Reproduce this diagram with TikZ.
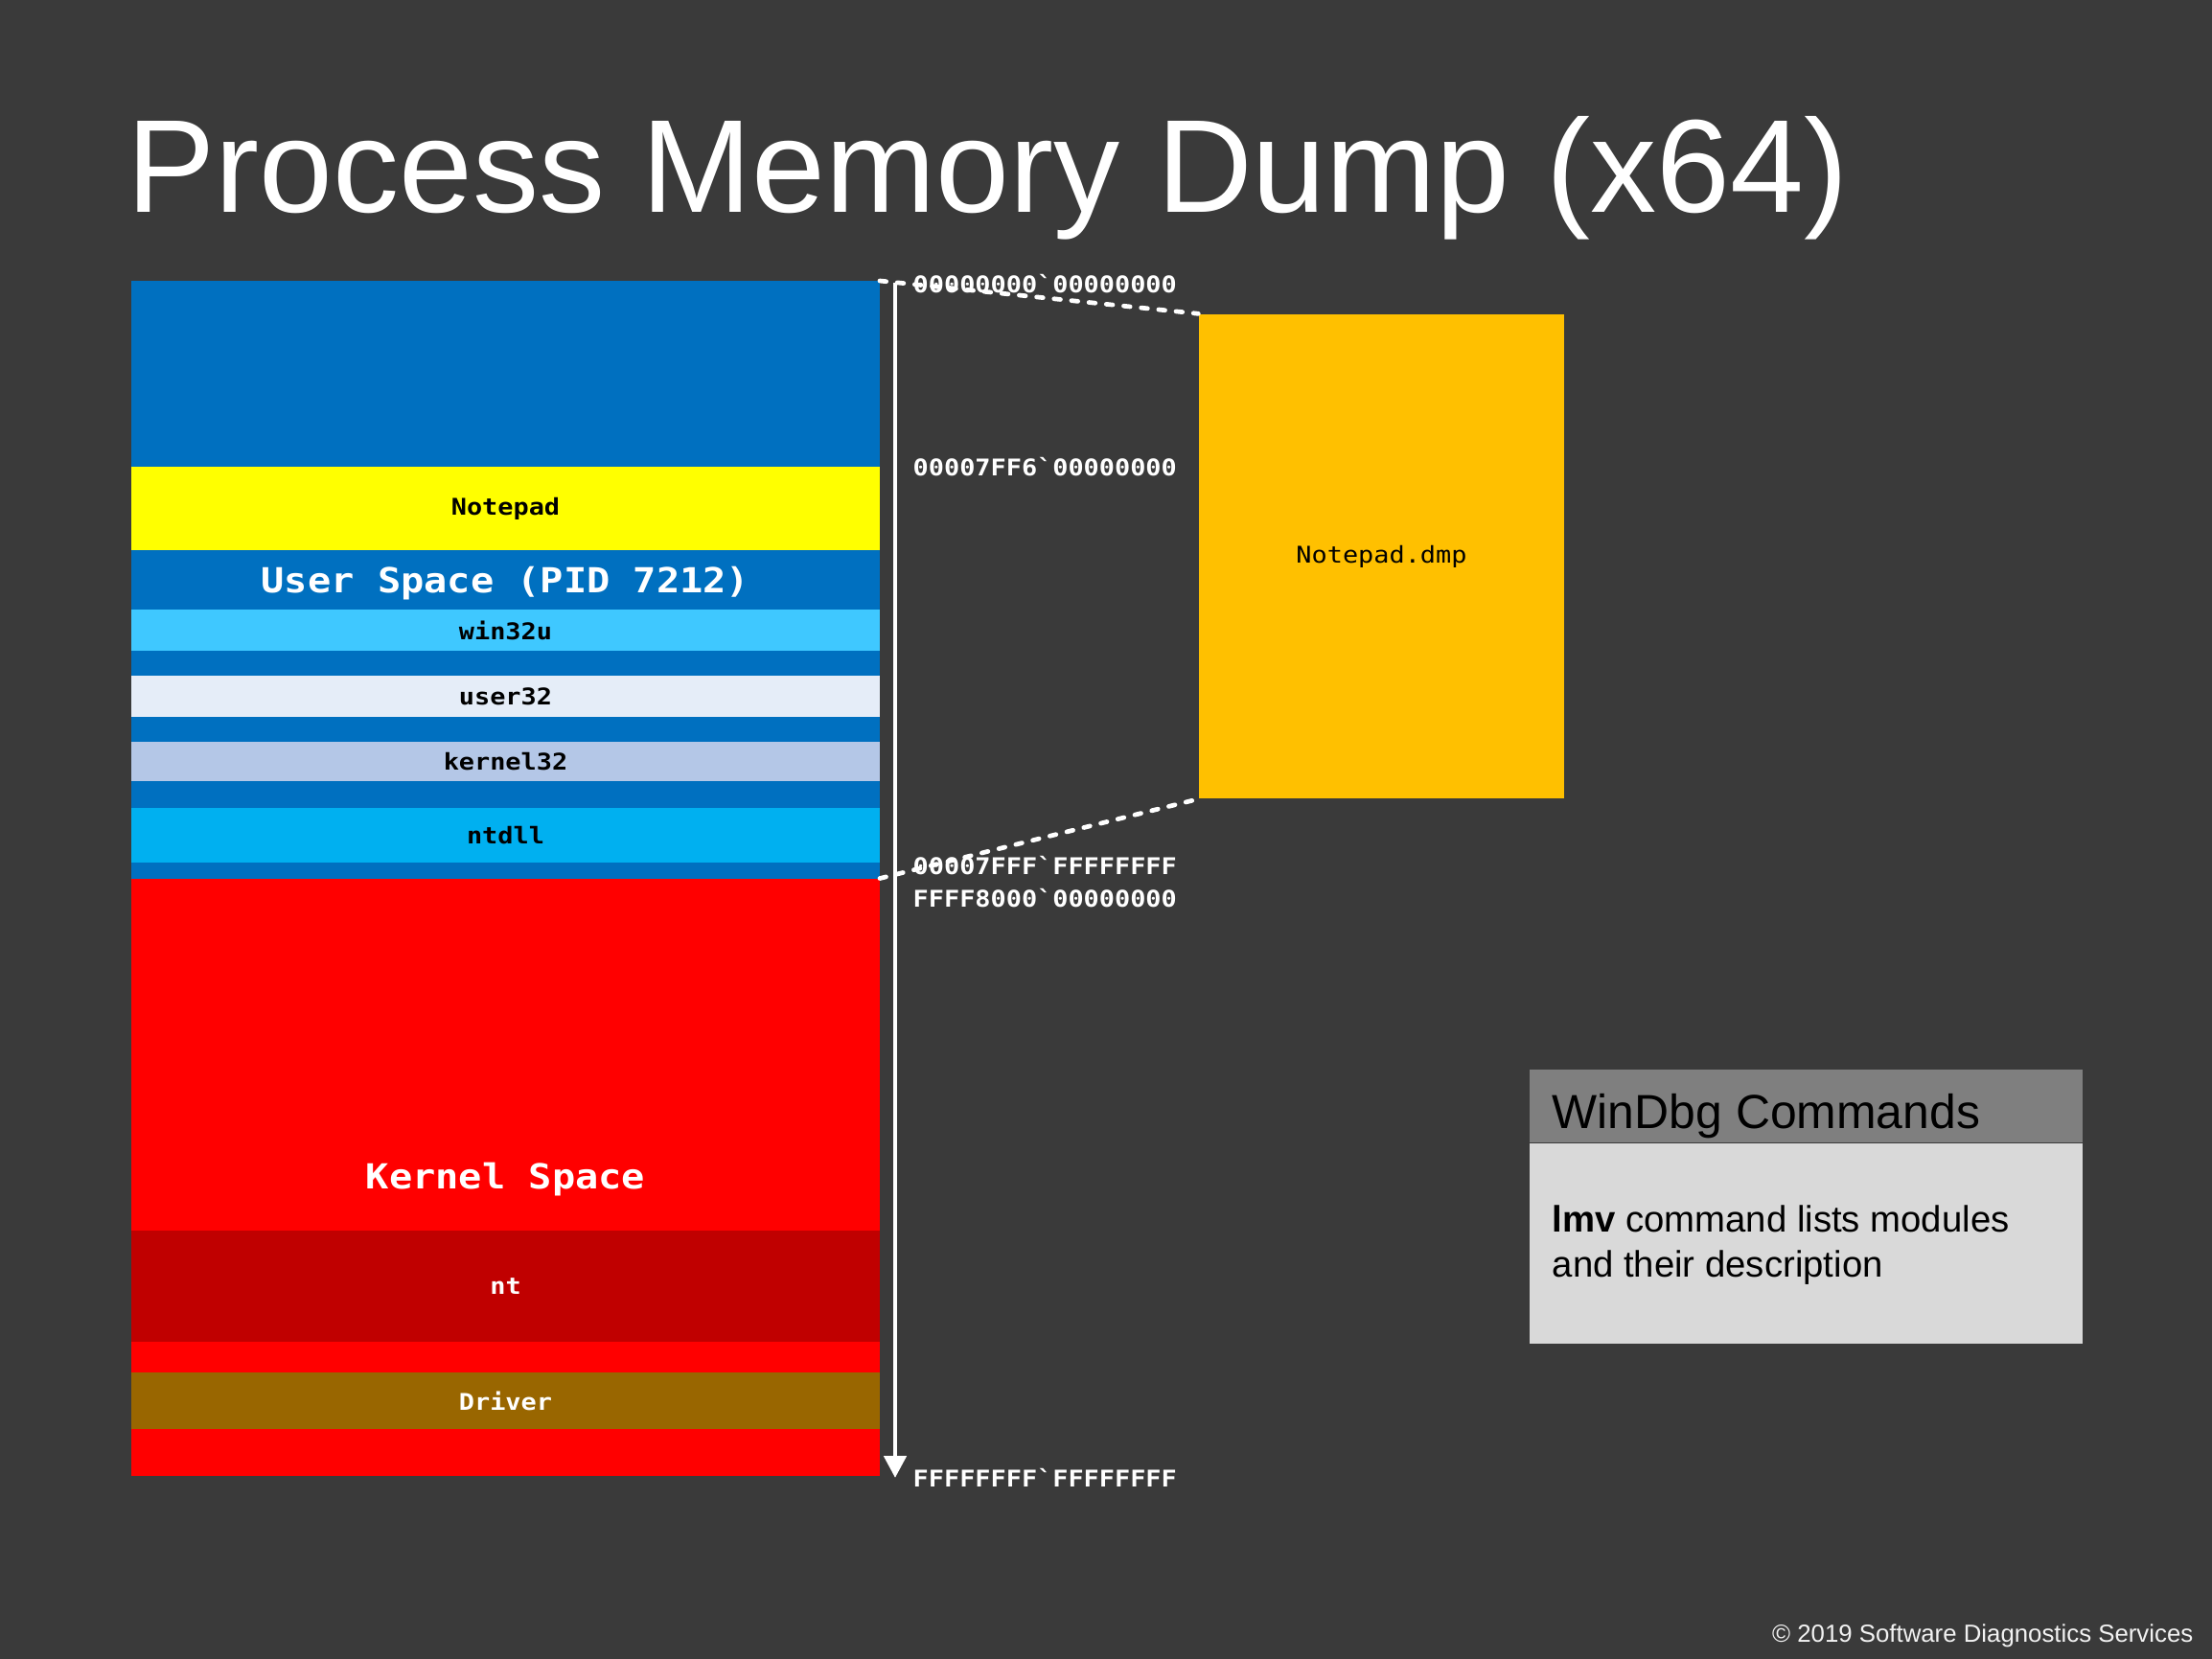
\documentclass[tikz,border=0pt]{standalone}
\usepackage{fontspec}
\setmainfont{Liberation Sans}
\newfontfamily\memfont[FakeStretch=1.12]{DejaVu Sans Mono}
\usetikzlibrary{arrows.meta,positioning}
\definecolor{slidebg}{HTML}{3A3A3A}
\definecolor{userblue}{HTML}{0070C0}
\definecolor{kernred}{HTML}{FF0000}
\definecolor{exeyellow}{HTML}{FFFF00}
\definecolor{win32ucol}{HTML}{3FC8FF}
\definecolor{user32col}{HTML}{E5EDF8}
\definecolor{kern32col}{HTML}{B4C7E7}
\definecolor{ntdllcol}{HTML}{00B0F0}
\definecolor{ntcol}{HTML}{C00000}
\definecolor{drvcol}{HTML}{996600}
\definecolor{dmpgold}{HTML}{FFC000}
\definecolor{hdrgray}{HTML}{7F7F7F}
\definecolor{bodygray}{HTML}{D9D9D9}
\definecolor{footgray}{HTML}{F2F2F2}

\begin{document}
\begin{tikzpicture}[
 band/.style={minimum width=7.81cm, inner sep=0, outer sep=0, font=\memfont\bfseries\fontsize{6.83}{8}\selectfont},
 spacelbl/.style={inner sep=0, text=white, font=\memfont\bfseries\fontsize{10.24}{12}\selectfont},
 addr/.style={anchor=west, inner sep=0, text=white, font=\memfont\bfseries\fontsize{6.83}{8}\selectfont},
 link/.style={white, line width=1.35pt, line cap=round, dash pattern=on 1.9pt off 3.3pt},
 cmdtxt/.style={anchor=base west, inner sep=0, font=\fontsize{10.9}{13.4}\selectfont},
]
 %
 \fill[slidebg] (0,0) rectangle (23.08,-17.31);
 \node[anchor=base west, inner sep=0, text=white, font=\fontsize{39.3}{45}\selectfont] (title) at (1.32,-2.21) {Process Memory Dump (x64)};

 % address space
 \node[band, fill=userblue, minimum height=6.235cm] (user) at (5.275,-6.0475) {};
 \node[band, fill=kernred, minimum height=6.235cm] (kernel) at (5.275,-12.2825) {};

 \node[band, fill=exeyellow, minimum height=0.87cm] (notepad) at (5.275,-5.305) {Notepad};
 \node[spacelbl] (userlbl) at (5.275,-6.09) {User Space (PID 7212)};
 \node[band, fill=win32ucol, minimum height=0.43cm] (win32u) at (5.275,-6.575) {win32u};
 \node[band, fill=user32col, minimum height=0.43cm] (user32) at (5.275,-7.265) {user32};
 \node[band, fill=kern32col, minimum height=0.41cm] (kernel32) at (5.275,-7.945) {kernel32};
 \node[band, fill=ntdllcol, minimum height=0.57cm] (ntdll) at (5.275,-8.715) {ntdll};

 \node[spacelbl] (kernlbl) at (5.275,-12.31) {Kernel Space};
 \node[band, fill=ntcol, text=white, minimum height=1.16cm] (nt) at (5.275,-13.42) {nt};
 \node[band, fill=drvcol, text=white, minimum height=0.59cm] (driver) at (5.275,-14.615) {Driver};

 % addresses
 \coordinate (atop) at (9.34,-2.95);
 \coordinate (abot) at (9.34,-15.42);
 \draw[-{Triangle[width=0.23cm,length=0.23cm]}, white, line width=1.4pt] (atop) -- (abot);
 \node[addr] (a0) at (9.52,-2.96) {00000000`00000000};
 \node[addr] (a1) at (9.52,-4.87) {00007FF6`00000000};
 \node[addr] (a2) at (9.52,-9.03) {00007FFF`FFFFFFFF};
 \node[addr] (a3) at (9.52,-9.37) {FFFF8000`00000000};
 \node[addr] (a4) at (9.52,-15.42) {FFFFFFFF`FFFFFFFF};

 % dump file
 \node[fill=dmpgold, minimum width=3.81cm, minimum height=5.05cm, inner sep=0, font=\memfont\fontsize{6.83}{8}\selectfont] (dmp) at (14.415,-5.805) {Notepad.dmp};
 \draw[link] (user.north east) -- (dmp.north west);
 \draw[link] (user.south east) -- (dmp.south west);

 % commands
 \node[fill=hdrgray, minimum width=5.77cm, minimum height=0.76cm, inner sep=0] (hdr) at (18.845,-11.54) {};
 \node[fill=bodygray, minimum width=5.77cm, minimum height=2.09cm, inner sep=0, below=0pt of hdr] (body) {};
 \node[anchor=base west, inner sep=0, font=\fontsize{14.2}{17}\selectfont] (hdrtxt) at (16.19,-11.77) {WinDbg Commands};
 \node[cmdtxt] (cmd1) at (16.19,-12.85) {\textbf{lmv} command lists modules};
 \node[cmdtxt] (cmd2) at (16.19,-13.32) {and their description};

 \node[anchor=base east, inner sep=0, text=footgray, font=\fontsize{7.34}{9}\selectfont] (copy) at (22.89,-17.13) {\textcopyright{} 2019 Software Diagnostics Services};
\end{tikzpicture}
\end{document}
